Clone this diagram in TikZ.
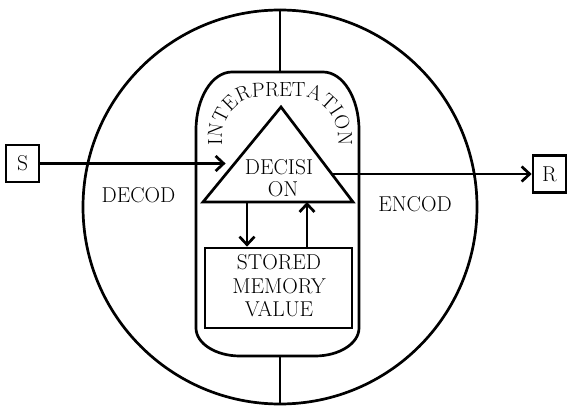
\documentclass[tikz,border=0pt]{standalone}
\usetikzlibrary{arrows.meta,decorations.text}
\newcommand\arcfont{\fontsize{20.5}{22}\selectfont}
\begin{document}
\begin{tikzpicture}[x=1pt,y=1pt,
  ln/.style={line width=2.7pt},
  arr/.style={ln,-{Straight Barb[length=8pt,width=15pt]}},
  lbl/.style={font=\fontsize{21.5}{23.5}\selectfont,inner sep=0pt},
  endbox/.style={draw,ln,minimum width=33pt,minimum height=37pt,inner sep=0pt,font=\fontsize{21.5}{23.5}\selectfont}]
\useasboundingbox (0,0) rectangle (567,407);
% outer circle
\node[draw,ln,circle,minimum size=394pt,inner sep=0pt] (world) at (280,200) {};
% capsule
\draw[ln] (196,277) arc[start angle=180,end angle=90,x radius=36pt,y radius=58pt]
  -- (323,335)
  arc[start angle=90,end angle=0,x radius=36pt,y radius=58pt]
  -- (359,79) arc[start angle=0,end angle=-90,x radius=44pt,y radius=28pt]
  -- (240,51) arc[start angle=270,end angle=180,x radius=44pt,y radius=28pt] -- cycle;
\coordinate (captop) at (280,335);
\coordinate (capbot) at (280,51);
\draw[ln] (world.north) -- (captop);
\draw[ln] (capbot) -- (world.south);
% arc text
\begin{scope}
\arcfont
\path[font=\arcfont,decorate,decoration={text along path,text align=center,
  text={INTERPRETATION}}]
  (222,252) -- (222,268) arc[start angle=180,end angle=90,x radius=38pt,y radius=42pt]
  -- (300,310) arc[start angle=90,end angle=0,x radius=38pt,y radius=42pt] -- (338,252);
\end{scope}
% triangle
\coordinate (tA) at (281,300);
\coordinate (tL) at (203,205);
\coordinate (tR) at (353,205);
\draw[ln,line join=miter] (tA) -- (tL) -- (tR) -- cycle;
\node[lbl,anchor=base] (dec1) at (279,232) {DECISI};
\node[lbl,anchor=base] (dec2) at (283,210) {ON};
% memory box
\node[draw,ln,minimum width=147pt,minimum height=80pt,inner sep=0pt] (mem) at (278.5,119) {};
\node[lbl,align=center] (memtext) at (279,121) {STORED\\MEMORY\\VALUE};
\coordinate (d1) at (247,0);
\coordinate (d2) at (307,0);
\draw[arr] (tL-|d1) -- (mem.north-|d1);
\draw[arr] (mem.north-|d2) -- (tL-|d2);
% S and R
\node[endbox] (S) at (22.5,243.5) {S};
\node[endbox] (R) at (549.5,233) {R};
\coordinate (tin) at (234.6,243.5);
\coordinate (tout) at (332,233);
\draw[arr,shorten >=9pt] (S.east) -- (tin);
\draw[arr] (tout) -- (R.west);
% labels
\node[lbl,anchor=base] (decod) at (138.5,204) {DECOD};
\node[lbl,anchor=base] (encod) at (415,195) {ENCOD};
\end{tikzpicture}
\end{document}
